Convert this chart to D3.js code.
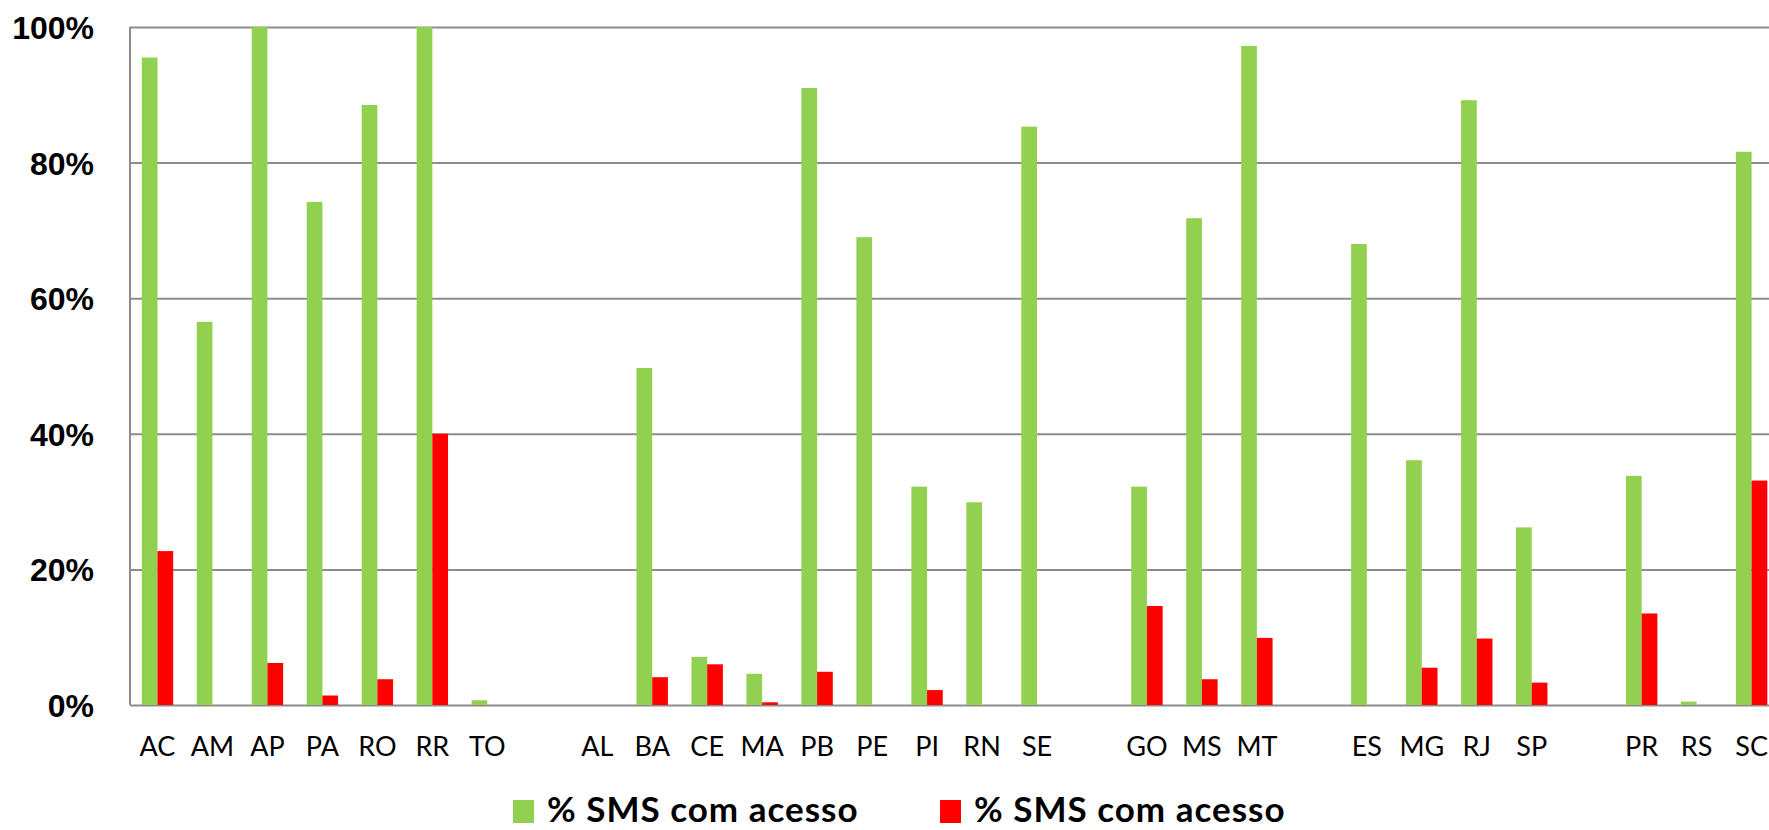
<!DOCTYPE html>
<html>
<head>
<meta charset="utf-8">
<script src="https://cdn.jsdelivr.net/npm/d3@7"></script>
<style>
  html, body { margin: 0; padding: 0; background: #fff; overflow: hidden; }
  svg { display: block; font-family: Lato, "Open Sans", sans-serif; }
</style>
</head>
<body>
<svg id="chart"></svg>
<script>
// States grouped by region, "" = empty slot between regions
const states = ["AC","AM","AP","PA","RO","RR","TO","",
                "AL","BA","CE","MA","PB","PE","PI","RN","SE","",
                "GO","MS","MT","",
                "ES","MG","RJ","SP","",
                "PR","RS","SC"];

// % SMS com acesso (green series)
const greenValues = [95.5,56.5,100,74.2,88.5,100,0.7,null,
                     0,49.7,7.1,4.6,91.0,69.0,32.2,29.9,85.3,null,
                     32.2,71.8,97.2,null,
                     68.0,36.1,89.2,26.2,null,
                     33.8,0.5,81.6];

// % SMS com acesso (red series)
const redValues = [22.7,0,6.2,1.4,3.8,40.0,0,null,
                   0,4.1,6.0,0.4,4.9,0,2.2,0,0,null,
                   14.6,3.8,9.9,null,
                   0,5.5,9.8,3.3,null,
                   13.5,0,33.1];

const yTicks = [0, 20, 40, 60, 80, 100];
const seriesNames = ["% SMS com acesso", "% SMS com acesso"];
const colors = ["#92D050", "#FF0000"];

const width = 1769, height = 830;
const marginLeft = 130, plotTop = 27, plotBottom = 705;

const svg = d3.select("#chart")
    .attr("width", width)
    .attr("height", height);

const x = d3.scaleBand()
    .domain(d3.range(states.length))
    .range([marginLeft, marginLeft + 54.97 * states.length]);

const xs = d3.scaleBand()
    .domain([0, 1])
    .range([0, x.bandwidth()])
    .paddingOuter(0.75);

const y = d3.scaleLinear()
    .domain([0, 100])
    .range([plotBottom, plotTop]);

// gridlines + y labels
const yAxis = svg.append("g")
    .attr("transform", `translate(${marginLeft},0)`)
    .call(d3.axisLeft(y).tickValues(yTicks).tickSize(-(width - marginLeft)).tickFormat(d => d + "%"));

yAxis.select(".domain").remove();
yAxis.selectAll(".tick line")
    .attr("stroke", "#8c8c8c")
    .attr("stroke-width", 2);
yAxis.selectAll(".tick text")
    .attr("x", -36)
    .attr("dy", "0.36em")
    .attr("fill", "#000")
    .style("font-size", "32px")
    .style("font-weight", "bold");

// left axis line
svg.append("line")
    .attr("x1", marginLeft).attr("x2", marginLeft)
    .attr("y1", y(100)).attr("y2", y(0))
    .attr("stroke", "#8c8c8c")
    .attr("stroke-width", 2);

// bars
const series = [greenValues, redValues];
series.forEach((vals, s) => {
    svg.append("g")
        .selectAll("rect")
        .data(vals.map((v, i) => ({ i, v })).filter(d => d.v))
        .join("rect")
        .attr("x", d => x(d.i) + xs(s))
        .attr("width", xs.bandwidth())
        .attr("y", d => y(d.v))
        .attr("height", d => y(0) - y(d.v))
        .attr("fill", colors[s]);
});

// x labels
svg.append("g")
    .selectAll("text")
    .data(states.map((st, i) => ({ st, i })).filter(d => d.st))
    .join("text")
    .attr("x", d => x(d.i) + x.bandwidth() / 2)
    .attr("y", 756)
    .attr("text-anchor", "middle")
    .style("font-size", "27px")
    .text(d => d.st);

// legend
const legendX = [513, 940];
const legend = svg.append("g")
    .selectAll("g")
    .data(seriesNames)
    .join("g")
    .attr("transform", (d, i) => `translate(${legendX[i]},0)`);

legend.append("rect")
    .attr("y", 800)
    .attr("width", 21)
    .attr("height", 23)
    .attr("fill", (d, i) => colors[i]);

legend.append("text")
    .attr("x", 34)
    .attr("y", 822)
    .style("font-size", "35px")
    .style("font-weight", "bold")
    .style("letter-spacing", "1px")
    .text(d => d);
</script>
</body>
</html>
